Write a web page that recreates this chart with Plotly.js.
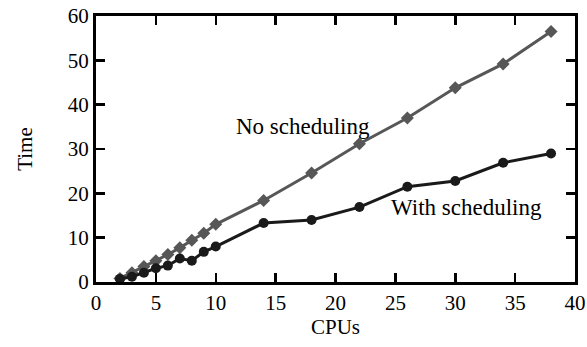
<!DOCTYPE html>
<html><head><meta charset="utf-8">
<script src="https://cdn.plot.ly/plotly-3.0.1.min.js"></script>
<style>html,body{margin:0;padding:0;background:#fff}#chart{width:587px;height:347px}</style>
</head><body><div id="chart"></div>
<script>
const cpus = [2,3,4,5,6,7,8,9,10,14,18,22,26,30,34,38];
const noScheduling = [0.8,2.1,3.5,4.8,6.2,7.7,9.4,11,13,18.4,24.6,31.2,37,43.8,49.2,56.5];
const withScheduling = [0.7,1.2,2.1,3.1,3.7,5.3,4.8,6.8,8.0,13.3,14.0,16.9,21.5,22.8,26.9,29.0];
const xTicks = [0,5,10,15,20,25,30,35,40];
const yTicks = [0,10,20,30,40,50,60];

const font = {family:'Liberation Serif', size:21, color:'#000'};
const annFont = {family:'Liberation Serif', size:23, color:'#000'};
const traces = [
  {x:cpus, y:noScheduling, mode:'lines+markers', name:'No scheduling',
   line:{color:'#575757', width:3}, marker:{symbol:'diamond', size:10, color:'#575757'}},
  {x:cpus, y:withScheduling, mode:'lines+markers', name:'With scheduling',
   line:{color:'#1a1a1a', width:3}, marker:{symbol:'circle', size:10, color:'#1a1a1a'}}
];
const axisCommon = {showgrid:false, zeroline:false, showline:true, linecolor:'#000', linewidth:3,
  mirror:'ticks', ticks:'inside', ticklen:9, tickwidth:2.5, tickcolor:'#000', tickfont:font};
const layout = {
  width:587, height:347, showlegend:false,
  margin:{l:96, r:12, t:16, b:65},
  paper_bgcolor:'#fff', plot_bgcolor:'#fff', font:font,
  xaxis:Object.assign({}, axisCommon, {range:[0,40], tickvals:xTicks, ticktext:xTicks.map(String),
    title:{text:'CPUs', font:font, standoff:5}}),
  yaxis:Object.assign({}, axisCommon, {range:[0,60], tickvals:yTicks, ticktext:yTicks.map(String),
    title:{text:'Time', font:font, standoff:30}}),
  annotations:[
    {x:17.3, y:35, xref:'x', yref:'y', text:'No scheduling', showarrow:false, font:annFont},
    {x:30.9, y:16.9, xref:'x', yref:'y', text:'With scheduling', showarrow:false, font:annFont}
  ]
};
Plotly.newPlot('chart', traces, layout, {displayModeBar:false, staticPlot:true});
</script></body></html>
